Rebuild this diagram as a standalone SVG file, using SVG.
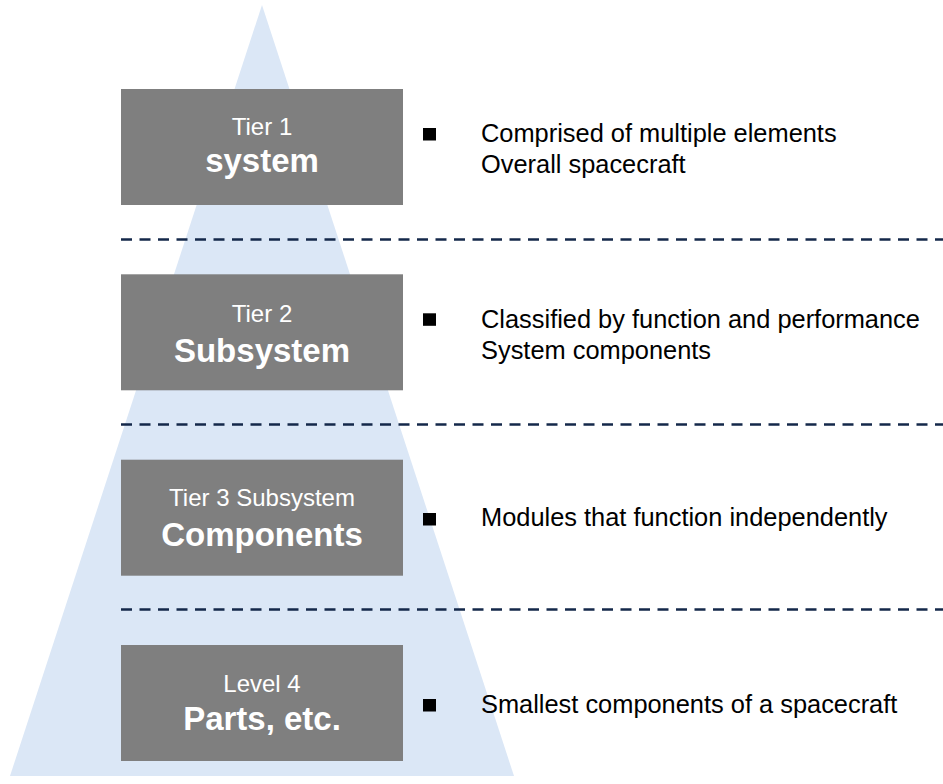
<svg xmlns="http://www.w3.org/2000/svg" width="943" height="784" viewBox="0 0 943 784">
<style>
.box{fill:#7f7f7f}
.sub{font-family:"Liberation Sans",Arial,sans-serif;font-size:24px;fill:#ffffff;text-anchor:middle}
.main{font-family:"Liberation Sans",Arial,sans-serif;font-size:33px;font-weight:bold;fill:#ffffff;text-anchor:middle}
.desc{font-family:"Liberation Sans",Arial,sans-serif;font-size:25.4px;fill:#000000}
.bul{fill:#000000}
.dash{stroke:#14284a;stroke-width:2.4;stroke-dasharray:11 7.5;fill:none}
</style>
<rect width="943" height="784" fill="#ffffff"/>
<polygon id="pyramid" points="262,5 10,776 514,776" fill="#dbe7f6"/>
<g id="connectors">
<line class="dash" x1="121" y1="239.5" x2="943" y2="239.5"/>
<line class="dash" x1="121" y1="424.5" x2="943" y2="424.5"/>
<line class="dash" x1="121" y1="609.5" x2="943" y2="609.5"/>
</g>
<g id="tier1">
<rect class="box" x="121" y="89" width="282" height="116"/>
<text class="sub" x="262" y="135">Tier 1</text>
<text class="main" x="262" y="172">system</text>
<rect class="bul" x="423" y="128" width="13" height="12.5"/>
<text class="desc" x="481" y="142">Comprised of multiple elements</text>
<text class="desc" x="481" y="173">Overall spacecraft</text>
</g>
<g id="tier2">
<rect class="box" x="121" y="274.3" width="282" height="116"/>
<text class="sub" x="262" y="321.5">Tier 2</text>
<text class="main" x="262" y="361.5">Subsystem</text>
<rect class="bul" x="423" y="313.3" width="13" height="12.5"/>
<text class="desc" x="481" y="328.3">Classified by function and performance</text>
<text class="desc" x="481" y="358.8">System components</text>
</g>
<g id="tier3">
<rect class="box" x="121" y="459.7" width="282" height="116"/>
<text class="sub" x="262" y="506">Tier 3 Subsystem</text>
<text class="main" x="262" y="546">Components</text>
<rect class="bul" x="423" y="513" width="13" height="12.5"/>
<text class="desc" x="481" y="525.5">Modules that function independently</text>
</g>
<g id="tier4">
<rect class="box" x="121" y="645" width="282" height="116"/>
<text class="sub" x="262" y="691.5">Level 4</text>
<text class="main" x="262" y="730">Parts, etc.</text>
<rect class="bul" x="423" y="699" width="13" height="12.5"/>
<text class="desc" x="481" y="712.5">Smallest components of a spacecraft</text>
</g>
</svg>
